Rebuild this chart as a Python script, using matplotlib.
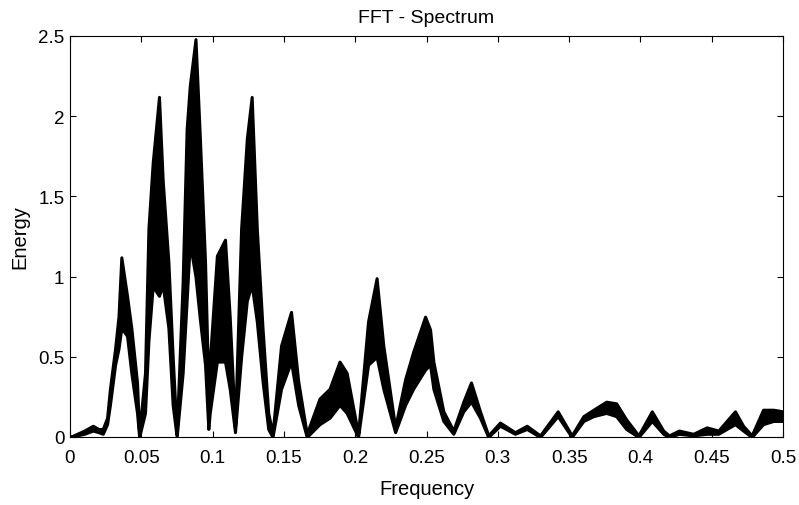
import matplotlib
matplotlib.use("Agg")
import matplotlib.pyplot as plt

# envelope of the dense FFT trace
freq = [0.000, 0.005, 0.010, 0.016, 0.020, 0.023, 0.026, 0.028, 0.0316, 0.034, 0.036,
        0.040, 0.043, 0.047, 0.0485, 0.0526, 0.055, 0.058, 0.0624, 0.065, 0.069, 0.072,
        0.0748, 0.079, 0.0818, 0.084, 0.088, 0.091, 0.0947, 0.097, 0.098, 0.103, 0.1087,
        0.112, 0.1157, 0.120, 0.124, 0.1274, 0.131, 0.135, 0.139, 0.142, 0.148, 0.155,
        0.160, 0.166, 0.175, 0.182, 0.189, 0.194, 0.202, 0.209, 0.215, 0.2197, 0.228,
        0.235, 0.2406, 0.249, 0.2525, 0.2548, 0.2618, 0.2688, 0.2758, 0.2812, 0.2875,
        0.2933, 0.3015, 0.312, 0.3203, 0.3296, 0.342, 0.3518, 0.360, 0.367, 0.376,
        0.383, 0.390, 0.3986, 0.408, 0.416, 0.420, 0.427, 0.437, 0.4465, 0.4546,
        0.4663, 0.472, 0.478, 0.486, 0.4932, 0.500]
upper = [0.00, 0.02, 0.04, 0.07, 0.05, 0.05, 0.12, 0.30, 0.55, 0.75, 1.12,
         0.88, 0.68, 0.34, 0.02, 0.40, 1.30, 1.71, 2.12, 1.60, 1.09, 0.50,
         0.02, 0.97, 1.92, 2.19, 2.48, 1.88, 1.09, 0.30, 0.47, 1.13, 1.23,
         0.75, 0.06, 1.30, 1.86, 2.12, 1.30, 0.68, 0.15, 0.02, 0.57, 0.78,
         0.35, 0.02, 0.24, 0.30, 0.47, 0.40, 0.02, 0.72, 0.99, 0.57, 0.06,
         0.36, 0.53, 0.75, 0.67, 0.47, 0.16, 0.04, 0.22, 0.34, 0.16,
         0.01, 0.09, 0.03, 0.07, 0.01, 0.16, 0.01, 0.13, 0.17, 0.22,
         0.21, 0.11, 0.01, 0.16, 0.04, 0.01, 0.04, 0.02, 0.06, 0.04,
         0.16, 0.07, 0.01, 0.17, 0.17, 0.16]
lower = [0.00, 0.01, 0.02, 0.04, 0.03, 0.02, 0.08, 0.20, 0.45, 0.55, 0.68,
         0.63, 0.40, 0.15, 0.00, 0.15, 0.60, 0.94, 0.88, 0.95, 0.68, 0.20,
         0.00, 0.40, 0.85, 1.21, 1.00, 0.74, 0.45, 0.05, 0.15, 0.47, 0.47,
         0.30, 0.03, 0.50, 0.85, 0.95, 0.72, 0.35, 0.05, 0.00, 0.30, 0.47,
         0.20, 0.00, 0.08, 0.12, 0.20, 0.15, 0.00, 0.45, 0.50, 0.30, 0.03,
         0.20, 0.30, 0.42, 0.45, 0.30, 0.10, 0.02, 0.16, 0.22, 0.12,
         0.00, 0.07, 0.02, 0.05, 0.00, 0.13, 0.00, 0.10, 0.13, 0.15,
         0.13, 0.05, 0.00, 0.10, 0.02, 0.00, 0.02, 0.01, 0.02, 0.02,
         0.08, 0.04, 0.00, 0.08, 0.10, 0.10]

xticks = [0, 0.05, 0.1, 0.15, 0.2, 0.25, 0.3, 0.35, 0.4, 0.45, 0.5]
xtick_labels = ["0", "0.05", "0.1", "0.15", "0.2", "0.25", "0.3", "0.35", "0.4", "0.45", "0.5"]
yticks = [0, 0.5, 1, 1.5, 2, 2.5]
ytick_labels = ["0", "0.5", "1", "1.5", "2", "2.5"]

plt.rcParams["font.family"] = ["Liberation Sans", "DejaVu Sans"]

fig = plt.figure(figsize=(7.99, 5.06), dpi=100)
ax = fig.add_axes([0.0876, 0.1344, 0.8924, 0.7926])

ax.fill_between(freq, lower, upper, color="black", linewidth=2.2)

ax.set_xlim(0, 0.5)
ax.set_ylim(0, 2.5)
ax.set_xticks(xticks)
ax.set_xticklabels(xtick_labels)
ax.set_yticks(yticks)
ax.set_yticklabels(ytick_labels)
ax.tick_params(direction="in", top=True, right=True, labelsize=13.5, length=4, width=0.8)
ax.tick_params(axis="x", pad=9)
ax.tick_params(axis="y", pad=4)
for s in ax.spines.values():
    s.set_linewidth(0.8)

ax.set_title("FFT - Spectrum", fontsize=14, pad=10)
ax.set_xlabel("Frequency", fontsize=14.5, labelpad=9)
ax.set_ylabel("Energy", fontsize=14.5, labelpad=6)

fig.savefig("out.png", dpi=100)
